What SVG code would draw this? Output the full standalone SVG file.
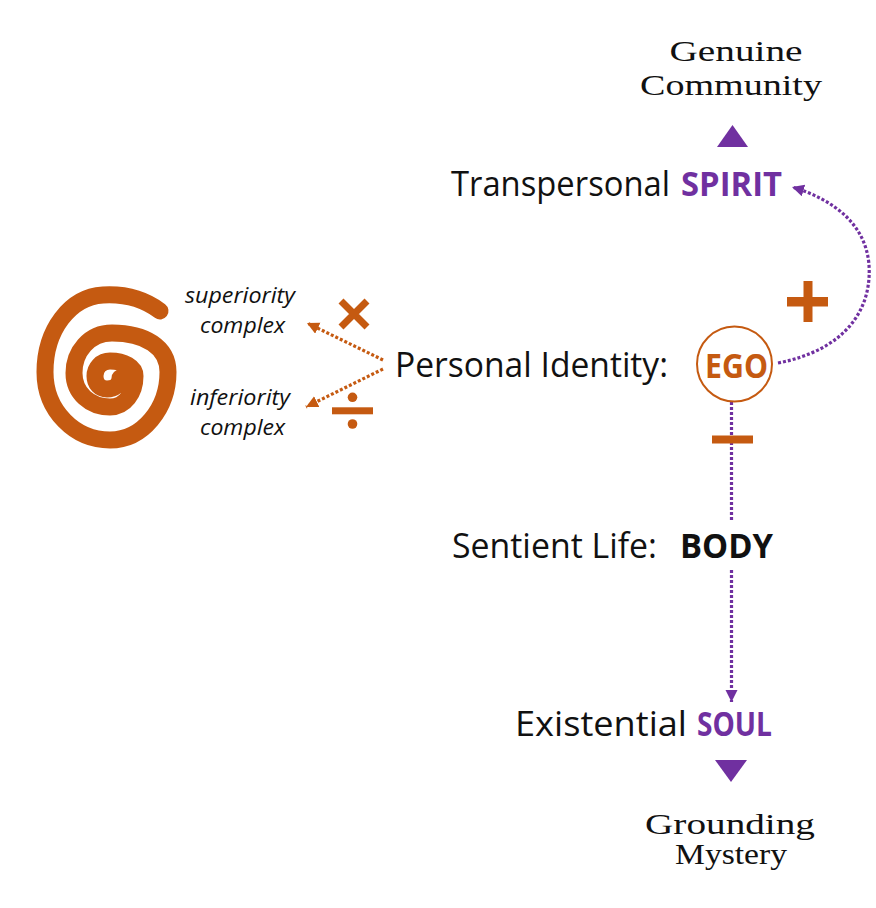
<svg xmlns="http://www.w3.org/2000/svg" width="876" height="908" viewBox="0 0 876 908">
<style>
.main{font-family:"Open Sans","Noto Sans",sans-serif;font-size:34px;fill:#111}
.bold{font-weight:bold}
.pur{fill:#7030A0}
.brn{fill:#C55A11}
.ital{font-family:"Open Sans","Noto Sans",sans-serif;font-style:italic;font-size:21px;fill:#111;text-anchor:middle}
.cal{font-family:"Liberation Serif","DejaVu Serif",serif;font-size:30px;fill:#111;text-anchor:middle}
.dotp{fill:none;stroke:#7030A0;stroke-width:3.2;stroke-dasharray:3 2}
.dotb{fill:none;stroke:#C55A11;stroke-width:3.2;stroke-dasharray:3 2}
</style>
<defs>
<marker id="ap" markerUnits="userSpaceOnUse" markerWidth="14" markerHeight="14" refX="12" refY="6" orient="auto">
<path d="M0,0 L12,6 L0,12 z" fill="#7030A0"/>
</marker>
<marker id="ab" markerUnits="userSpaceOnUse" markerWidth="14" markerHeight="14" refX="12" refY="6" orient="auto">
<path d="M0,0 L12,6 L0,12 z" fill="#C55A11"/>
</marker>
</defs>
<rect width="876" height="908" fill="#fff"/>

<g id="spiral">
<path d="M160,311 C140,296 120,294 103,295 C70,297 45,330 45,372 C45,411 75,440 110,440 C143,440 168,408 168,372 C168,347 145,333 112,333 C89,333 74,352 74,373 C74,393 90,407 110,407 C125,407 135,393 135,376 C135,367 124,361 110,361 C101,361 95,368 95,376 C95,384 100,389 107,389 C114,389 120,385 120,378" fill="none" stroke="#C55A11" stroke-width="17" stroke-linecap="round" stroke-linejoin="round"/>
</g>

<g id="connectors">
<path class="dotb" d="M383,360 L307,323" marker-end="url(#ab)"/>
<path class="dotb" d="M383,369 L306,407" marker-end="url(#ab)"/>
<path class="dotp" d="M778,363 C845,350 872,310 869,265 C866,225 835,200 792,187" marker-end="url(#ap)"/>
<path class="dotp" d="M731.5,402 L731.5,522"/>
<path class="dotp" d="M731.5,570 L731.5,702" marker-end="url(#ap)"/>
</g>

<g id="community">
<text class="cal" x="736" y="61" textLength="133" lengthAdjust="spacingAndGlyphs">Genuine</text>
<text class="cal" x="731" y="95" textLength="182" lengthAdjust="spacingAndGlyphs">Community</text>
<path d="M732.5,125 L748,147 L717,147 z" fill="#7030A0"/>
</g>

<g id="spirit">
<text class="main" x="451" y="196" textLength="219" lengthAdjust="spacingAndGlyphs">Transpersonal</text>
<text class="main bold pur" x="681" y="196" textLength="101" lengthAdjust="spacingAndGlyphs">SPIRIT</text>
</g>

<g id="plus">
<rect x="787" y="297" width="41" height="9.5" fill="#C55A11"/>
<rect x="803.5" y="281" width="9" height="41" fill="#C55A11"/>
</g>

<g id="ego">
<text class="main" x="395" y="377" textLength="273" lengthAdjust="spacingAndGlyphs">Personal Identity:</text>
<circle cx="734.5" cy="364" r="37.5" fill="none" stroke="#C55A11" stroke-width="2"/>
<text class="main bold brn" x="705" y="378" font-size="34" textLength="63" lengthAdjust="spacingAndGlyphs">EGO</text>
</g>

<g id="minus">
<rect x="712" y="435.5" width="41" height="8" fill="#C55A11"/>
</g>

<g id="superiority">
<text class="ital" x="240" y="303" textLength="110" lengthAdjust="spacingAndGlyphs">superiority</text>
<text class="ital" x="242.5" y="333" textLength="85" lengthAdjust="spacingAndGlyphs">complex</text>
<path d="M341,301 L367,327 M367,301 L341,327" stroke="#C55A11" stroke-width="7"/>
</g>

<g id="inferiority">
<text class="ital" x="240" y="405" textLength="100" lengthAdjust="spacingAndGlyphs">inferiority</text>
<text class="ital" x="242.5" y="435" textLength="85" lengthAdjust="spacingAndGlyphs">complex</text>
<rect x="332" y="407.3" width="41" height="7" fill="#C55A11"/>
<circle cx="352.5" cy="397.3" r="4.8" fill="#C55A11"/>
<circle cx="352.5" cy="424" r="4.8" fill="#C55A11"/>
</g>

<g id="body">
<text class="main" x="452" y="558" textLength="205" lengthAdjust="spacingAndGlyphs">Sentient Life:</text>
<text class="main bold" x="680" y="558" textLength="93" lengthAdjust="spacingAndGlyphs">BODY</text>
</g>

<g id="soul">
<text class="main" x="515" y="736" font-size="35" textLength="172" lengthAdjust="spacingAndGlyphs">Existential</text>
<text class="main bold pur" x="697" y="736" font-size="35" textLength="75" lengthAdjust="spacingAndGlyphs">SOUL</text>
</g>

<g id="mystery">
<path d="M715,760 L747,760 L731,782 z" fill="#7030A0"/>
<text class="cal" x="730" y="834" textLength="170" lengthAdjust="spacingAndGlyphs">Grounding</text>
<text class="cal" x="731" y="864" textLength="112" lengthAdjust="spacingAndGlyphs">Mystery</text>
</g>
</svg>
